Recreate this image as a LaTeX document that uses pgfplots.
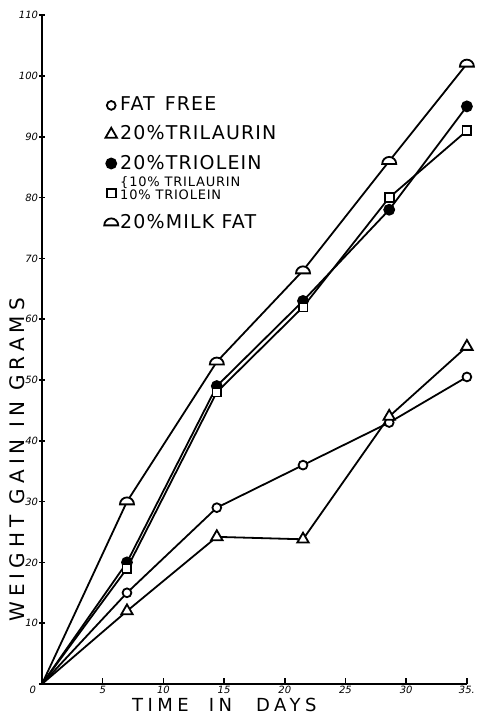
\documentclass[border=0pt]{standalone}
\usepackage{fontspec}
\setmainfont{DejaVu Sans}
\usepackage{pgfplots}
\pgfplotsset{compat=1.18}

% half circle sitting on its flat side (milk fat)
\pgfdeclareplotmark{dome}{%
  \pgfpathmoveto{\pgfqpoint{\pgfplotmarksize}{-0.4\pgfplotmarksize}}%
  \pgfpatharc{0}{180}{\pgfplotmarksize}%
  \pgfpathclose
  \pgfusepathqfillstroke}

\begin{document}
\begin{tikzpicture}
\path[use as bounding box] (-21pt,-16pt) rectangle (218pt,342pt);
\begin{axis}[
    x=6.07pt, y=3.04pt,
    xmin=0, xmax=35, ymin=0, ymax=110,
    enlargelimits=false, clip=false,
    axis lines=left,
    axis line style={-, line width=0.9pt},
    xtick={5,10,...,35},
    xticklabels={5,10,15,20,25,30,35.},
    ytick={10,20,...,110},
    extra y ticks={0},
    extra y tick style={yticklabel style={yshift=-3pt, xshift=-1pt}},
    xtick align=inside, ytick align=center,
    major tick length=3pt,
    tick style={line width=0.8pt, black},
    /pgf/number format/assume math mode=true,
    ticklabel style={font=\fontsize{5}{6}\selectfont\itshape},
    xticklabel style={inner sep=1pt},
    yticklabel style={inner sep=0.3pt},
    xlabel={TIME\hspace{10pt}IN\hspace{12pt}DAYS},
    ylabel={WEIGHT GAIN IN GRAMS},
    xlabel style={at={(axis description cs:0.429,-0.031)}, anchor=center,
        font=\fontsize{9}{10}\selectfont\addfontfeature{LetterSpace=25}},
    ylabel style={at={(axis description cs:-0.058,0.335)}, anchor=center,
        font=\fontsize{10}{11}\selectfont\addfontfeature{LetterSpace=25}},
    every axis plot/.append style={line width=0.9pt, black, mark phase=2},
    legend style={at={(axis cs:4.6,97.6)}, anchor=north west, draw=none, fill=none,
        font=\fontsize{9.5}{11}\selectfont\addfontfeature{LetterSpace=6},
        row sep=4pt, nodes={inner sep=1pt}},
    legend cell align=left,
]
% fat free
\addplot[forget plot, mark=*, mark size=2.2pt, mark options={fill=white}]
  coordinates {(0,0) (7,15) (14.4,29) (21.5,36) (28.6,43) (35,50.5)};
% 20% trilaurin
\addplot[forget plot, mark=triangle*, mark size=3.3pt, mark options={fill=white}]
  coordinates {(0,0) (7,12) (14.4,24.2) (21.5,23.8) (28.6,44) (35,55.5)};
% 20% triolein
\addplot[forget plot, mark=*, mark size=2.5pt, mark options={fill=black}]
  coordinates {(0,0) (7,20) (14.4,49) (21.5,63) (28.6,78) (35,95)};
% 10% trilaurin + 10% triolein
\addplot[forget plot, mark=square*, mark size=2.2pt, mark options={fill=white}]
  coordinates {(0,0) (7,19) (14.4,48) (21.5,62) (28.6,80) (35,91)};
% 20% milk fat
\addplot[forget plot, mark=dome, mark size=3.5pt, mark options={fill=white}]
  coordinates {(0,0) (7,30) (14.4,53) (21.5,68) (28.6,86) (35,102)};

\addlegendimage{only marks, mark=*, mark size=2.2pt, mark options={fill=white}}
\addlegendentry{FAT\hspace{5pt}FREE}
\addlegendimage{only marks, mark=triangle*, mark size=3.3pt, mark options={fill=white}}
\addlegendentry{20\%TRILAURIN}
\addlegendimage{only marks, mark=*, mark size=2.5pt, mark options={fill=black}}
\addlegendentry{20\%TRIOLEIN}
\addlegendimage{only marks, mark=square*, mark size=2.2pt, mark options={fill=white}}
\addlegendentry{\raisebox{0pt}[7.5pt][5.5pt]{\fontsize{6.5}{6.5}\selectfont\renewcommand\arraystretch{0.78}\begin{tabular}[b]{@{}l@{}}\{10\% TRILAURIN\\10\% TRIOLEIN\end{tabular}}}
\addlegendimage{only marks, mark=dome, mark size=3.5pt, mark options={fill=white}}
\addlegendentry{20\%MILK FAT}
\end{axis}
\end{tikzpicture}
\end{document}
